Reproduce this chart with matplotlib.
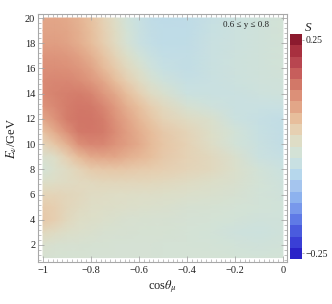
import numpy as np
import matplotlib
matplotlib.use("Agg")
import matplotlib.pyplot as plt
from matplotlib.colors import LinearSegmentedColormap, ListedColormap, BoundaryNorm
from matplotlib.ticker import MultipleLocator

plt.rcParams['font.family'] = ['Liberation Serif', 'DejaVu Serif']
plt.rcParams['mathtext.fontset'] = 'stix'

# ---- data ----
cos_theta = [-1.0, -0.95, -0.9, -0.85, -0.8, -0.75, -0.7, -0.65, -0.6, -0.55,
             -0.5, -0.4, -0.3, -0.2, -0.1, 0.0]
energy_top_down = list(range(20, 0, -1))
S_top_down = [
    [0.087, 0.087, 0.083, 0.074, 0.057, 0.035, 0.010, -0.018, -0.038, -0.048, -0.052, -0.050, -0.040, -0.030, -0.020, -0.012],
    [0.091, 0.091, 0.087, 0.078, 0.061, 0.039, 0.016, -0.012, -0.035, -0.046, -0.050, -0.049, -0.039, -0.029, -0.020, -0.013],
    [0.096, 0.096, 0.091, 0.080, 0.063, 0.042, 0.019, -0.008, -0.032, -0.044, -0.049, -0.047, -0.037, -0.028, -0.020, -0.014],
    [0.106, 0.106, 0.102, 0.093, 0.078, 0.055, 0.032, 0.009, -0.015, -0.034, -0.044, -0.046, -0.036, -0.027, -0.020, -0.015],
    [0.115, 0.114, 0.112, 0.105, 0.090, 0.068, 0.046, 0.023, 0.002, -0.022, -0.038, -0.045, -0.035, -0.026, -0.020, -0.015],
    [0.119, 0.122, 0.122, 0.117, 0.105, 0.086, 0.064, 0.040, 0.019, -0.002, -0.020, -0.040, -0.036, -0.028, -0.022, -0.018],
    [0.118, 0.125, 0.129, 0.131, 0.124, 0.105, 0.084, 0.061, 0.039, 0.017, 0.000, -0.030, -0.035, -0.032, -0.026, -0.022],
    [0.109, 0.120, 0.132, 0.137, 0.136, 0.123, 0.101, 0.078, 0.059, 0.039, 0.022, -0.005, -0.022, -0.034, -0.036, -0.036],
    [0.087, 0.109, 0.131, 0.140, 0.140, 0.132, 0.110, 0.088, 0.070, 0.052, 0.035, 0.017, 0.000, -0.030, -0.040, -0.045],
    [0.057, 0.083, 0.113, 0.135, 0.138, 0.133, 0.117, 0.097, 0.080, 0.063, 0.048, 0.030, 0.009, -0.015, -0.038, -0.046],
    [0.030, 0.052, 0.078, 0.113, 0.122, 0.122, 0.109, 0.096, 0.083, 0.065, 0.052, 0.035, 0.013, -0.015, -0.035, -0.045],
    [0.000, 0.013, 0.039, 0.065, 0.083, 0.087, 0.087, 0.078, 0.070, 0.061, 0.048, 0.035, 0.022, 0.000, -0.030, -0.040],
    [-0.010, 0.004, 0.017, 0.030, 0.044, 0.048, 0.050, 0.048, 0.044, 0.042, 0.039, 0.030, 0.022, 0.004, -0.015, -0.030],
    [0.009, 0.013, 0.017, 0.021, 0.023, 0.026, 0.026, 0.026, 0.026, 0.024, 0.022, 0.017, 0.009, 0.000, -0.012, -0.025],
    [0.030, 0.030, 0.026, 0.022, 0.017, 0.015, 0.013, 0.012, 0.011, 0.010, 0.009, 0.004, 0.000, -0.005, -0.015, -0.020],
    [0.044, 0.039, 0.026, 0.019, 0.013, 0.010, 0.009, 0.007, 0.005, 0.003, 0.000, -0.005, -0.007, -0.010, -0.015, -0.018],
    [0.048, 0.039, 0.022, 0.013, 0.009, 0.004, 0.000, -0.002, -0.003, -0.004, -0.005, -0.008, -0.010, -0.015, -0.020, -0.018],
    [0.022, 0.016, 0.009, 0.004, 0.000, -0.002, -0.004, -0.005, -0.006, -0.006, -0.007, -0.010, -0.014, -0.024, -0.028, -0.020],
    [0.000, -0.002, -0.004, -0.005, -0.006, -0.007, -0.008, -0.008, -0.009, -0.009, -0.010, -0.011, -0.013, -0.016, -0.020, -0.016],
    [-0.005, -0.006, -0.007, -0.007, -0.008, -0.008, -0.008, -0.008, -0.009, -0.009, -0.010, -0.010, -0.011, -0.012, -0.014, -0.012],
]
x_ticks = [-1, -0.8, -0.6, -0.4, -0.2, 0]
x_ticklabels = ['\u22121', '\u22120.8', '\u22120.6', '\u22120.4', '\u22120.2', '0']
y_ticks = [2, 4, 6, 8, 10, 12, 14, 16, 18, 20]
legend_colors_top_down = ['#8C1A2E', '#A8303F', '#B84650', '#C75E5C', '#D27868', '#DC9078',
                          '#E2A688', '#E7BE9C', '#E6D0B2', '#DEDDC6', '#D3E2D6', '#C8E0E2',
                          '#B6D7EC', '#A5C5EE', '#8DB2EE', '#7898EB', '#5F7AE6', '#4A5BDE',
                          '#3A3FD6', '#2A22C8']
vmin, vmax = -0.25, 0.25

# ---- colormaps ----
cols_bu = legend_colors_top_down[::-1]
n = len(cols_bu)
nodes = [(0.0, cols_bu[0])] + [((k + 0.5) / n, c) for k, c in enumerate(cols_bu)] + [(1.0, cols_bu[-1])]
cmap_cont = LinearSegmentedColormap.from_list('temp', nodes)
cmap_disc = ListedColormap(cols_bu)

E = np.array(energy_top_down[::-1], dtype=float)
S = np.array(S_top_down[::-1])
X, Y = np.meshgrid(np.array(cos_theta), E)

fig = plt.figure(figsize=(3.32, 3.04), dpi=100)
ax = fig.add_axes([38 / 332, 1 - 262 / 304, 249 / 332, 248 / 304])
ax.pcolormesh(X, Y, S, cmap=cmap_cont, vmin=vmin, vmax=vmax, shading='gouraud')
ax.set_xlim(-1.021, 0.017)
ax.set_ylim(0.65, 20.32)

frame_col = '#A8A8A8'
for sp in ax.spines.values():
    sp.set_color(frame_col)
    sp.set_linewidth(0.8)
ax.set_xticks(x_ticks)
ax.set_xticklabels(x_ticklabels)
ax.set_yticks(y_ticks)
ax.xaxis.set_minor_locator(MultipleLocator(0.02))
ax.yaxis.set_minor_locator(MultipleLocator(0.4))
ax.tick_params(which='both', direction='in', top=True, right=True, color=frame_col,
               labelsize=7.5, labelcolor='#222222')
ax.tick_params(which='major', length=4, width=0.6)
ax.tick_params(which='minor', length=2.2, width=0.5)
ax.tick_params(axis='x', pad=3)
ax.tick_params(axis='y', pad=2)

ax.set_xlabel('cos$\\theta_\\mu$', fontsize=9, color='#222222', labelpad=2)
ax.set_ylabel('$E_\\nu$/GeV', fontsize=9, color='#222222', labelpad=4)
ax.text(0.835, 0.955, '0.6 \u2264 y \u2264 0.8', transform=ax.transAxes, ha='center', va='center',
        fontsize=6.5, color='#222222')

# ---- legend bar ----
cax = fig.add_axes([290 / 332, 1 - 259 / 304, 12 / 332, 225 / 304])
bounds = np.linspace(vmin, vmax, n + 1)
sm = plt.cm.ScalarMappable(cmap=cmap_disc, norm=BoundaryNorm(bounds, n))
cb = fig.colorbar(sm, cax=cax)
cb.outline.set_visible(False)
cb.set_ticks([bounds[-1] - 0.0125, bounds[0] + 0.0125])
cb.set_ticklabels(['0.25', '\u22120.25'])
cax.tick_params(length=1.5, width=0.5, color='#888888', labelsize=7, pad=1, labelcolor='#222222')
cax.minorticks_off()
fig.text(305 / 332, 1 - 28 / 304, 'S', fontsize=9.5, style='italic', ha='left', va='center', color='#222222')

fig.savefig('out.png', dpi=100)
